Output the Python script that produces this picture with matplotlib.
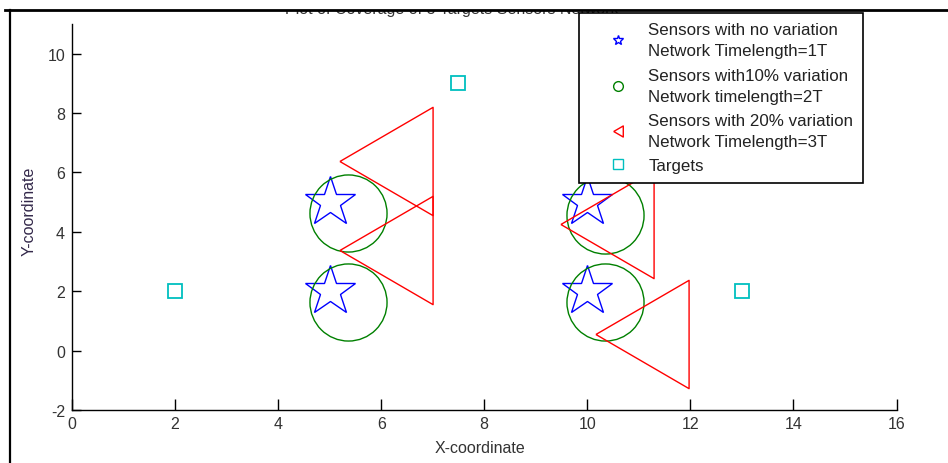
## sensors / targets coverage plot (MATLAB style figure)

import matplotlib
matplotlib.use('Agg')
import matplotlib.pyplot as plt
from matplotlib.lines import Line2D
from matplotlib.patches import Rectangle

plt.rcParams['font.family'] = ['Liberation Sans', 'DejaVu Sans']
plt.rcParams['axes.unicode_minus'] = False

## data
sensor_x = [5, 5, 10, 10]              ## no variation
sensor_y = [5, 2, 5, 2]
var10_x = [5.35, 5.35, 10.35, 10.35]   ## 10% variation
var10_y = [4.63, 1.65, 4.58, 1.65]
var20_x = [6.1, 6.1, 10.38, 11.07]     ## 20% variation
var20_y = [6.4, 3.4, 4.28, 0.57]
target_x = [2, 7.5, 13]
target_y = [2, 9, 2]

labels = ['Sensors with no variation\nNetwork Timelength=1T',
          'Sensors with10% variation\nNetwork timelength=2T',
          'Sensors with 20% variation\nNetwork Timelength=3T',
          'Targets']
title = 'Plot of Coverage of 3 Targets Sensors Network'

W, H = 948, 464
fig = plt.figure(figsize=(W / 100, H / 100), dpi=100)
ax = fig.add_axes([72 / W, 1 - 411 / H, 824.5 / W, 386 / H])

blue = (0, 0, 1)
green = (0, 0.5, 0)
red = (1, 0, 0)
cyan = (0, 0.75, 0.75)

## left pointing triangle, a bit narrower than tall
tri = [(-0.86, 0), (0.86, 1), (0.86, -1), (-0.86, 0)]

ax.plot(sensor_x, sensor_y, ls='none', marker='*', ms=38, mfc='none', mec=blue, mew=1.0)
ax.plot(var10_x, var10_y, ls='none', marker='o', ms=55.5, mfc='none', mec=green, mew=1.0)
ax.plot(var20_x, var20_y, ls='none', marker=tri, ms=78, mfc='none', mec=red, mew=1.0)
ax.plot(target_x, target_y, ls='none', marker='s', ms=9.5, mfc='none', mec=cyan, mew=1.3)

ax.set_xlim(0, 16)
ax.set_ylim(-2, 11)
ax.set_xticks(range(0, 17, 2))
ax.set_yticks(range(-2, 11, 2))
ax.spines['top'].set_visible(False)
ax.spines['right'].set_visible(False)
for s in ['left', 'bottom']:
    ax.spines[s].set_linewidth(1.0)
ax.tick_params(axis='x', direction='in', length=8, width=1.0, pad=4.5, labelsize=11.5, labelcolor='#333333')
ax.tick_params(axis='y', direction='in', length=6.5, width=1.0, pad=5, labelsize=11.5, labelcolor='#333333')

ax.set_xlabel('X-coordinate', fontsize=11.5, color='#333333')
ax.set_ylabel('Y-coordinate', fontsize=11.5, color='#33284a')
ax.xaxis.set_label_coords(0.495, -0.079)
ax.yaxis.set_label_coords(-0.043, 0.518)

## legend with small proxy markers
handles = [Line2D([], [], ls='none', marker='*', ms=7, mfc='none', mec=blue, mew=1.0),
           Line2D([], [], ls='none', marker='o', ms=7, mfc='none', mec=green, mew=1.0),
           Line2D([], [], ls='none', marker=tri, ms=8, mfc='none', mec=red, mew=1.0),
           Line2D([], [], ls='none', marker='s', ms=7, mfc='none', mec=cyan, mew=1.0)]
leg = ax.legend(handles, labels, loc='upper left', mode='expand',
                bbox_to_anchor=(579 / W, 1 - 182 / H, 284 / W, 168 / H),
                bbox_transform=fig.transFigure, borderaxespad=0,
                fontsize=12.2, handlelength=3.5, handletextpad=0.05,
                labelspacing=0.55, borderpad=0.55, fancybox=False, framealpha=1)
leg.get_frame().set_edgecolor('black')
leg.get_frame().set_linewidth(1.2)
for t in leg.get_texts():
    t.set_color('#222222')
    t.set_linespacing(1.5)

## title, mostly cut away by the screenshot edge
fig.text(285 / W, 1 - 14 / H, title, ha='left', va='baseline', fontsize=11.5,
         color='#333333', zorder=-1)
fig.add_artist(Rectangle((0, 1 - 11 / H), 1, 11 / H, transform=fig.transFigure,
                         facecolor='white', edgecolor='none', zorder=10))
fig.add_artist(Line2D([5 / W, 1], [1 - 11 / H, 1 - 11 / H], transform=fig.transFigure,
                      color='black', lw=2.0, zorder=11))
fig.add_artist(Line2D([10 / W, 10 / W], [0, 1 - 11 / H], transform=fig.transFigure,
                      color='black', lw=1.6, zorder=11))

fig.savefig('out.png', dpi=100)
